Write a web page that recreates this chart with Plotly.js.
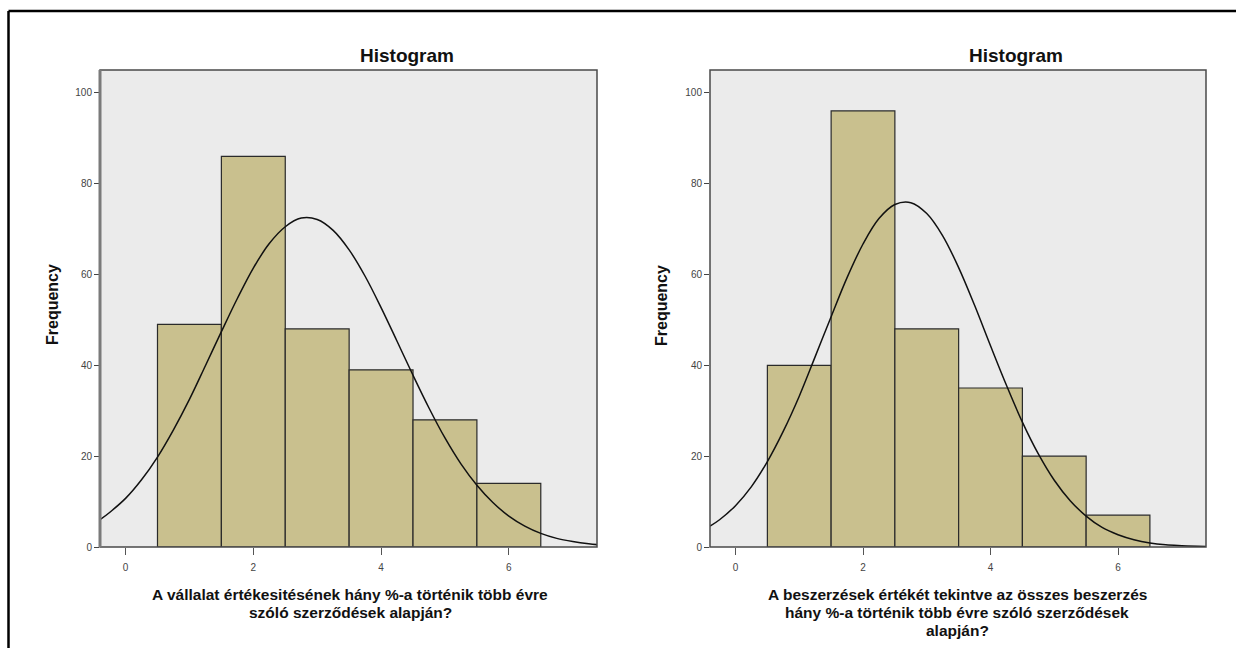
<!DOCTYPE html>
<html>
<head>
<meta charset="utf-8">
<script src="https://cdn.plot.ly/plotly-3.0.1.min.js"></script>
<style>html,body{margin:0;padding:0;background:#fff;}#chart{width:1236px;height:648px;}</style>
</head>
<body>
<div id="chart"></div>
<script>
// Bin centres (bins of width 1: 0.5-1.5, ..., 5.5-6.5)
const binCenters = [1, 2, 3, 4, 5, 6];
// Frequencies
const freqLeft  = [49, 86, 48, 39, 28, 14];
const freqRight = [40, 96, 48, 35, 20, 7];

// Normal curves, points
const curveX = [-0.4, -0.25, 0, 0.25, 0.5, 0.75, 1, 1.25, 1.5, 1.75, 2, 2.25, 2.5, 2.75, 3, 3.25, 3.5,
                3.75, 4, 4.25, 4.5, 4.75, 5, 5.25, 5.5, 5.75, 6, 6.25, 6.5, 6.75, 7, 7.25, 7.4];
const curveLeftY  = [6.0, 7.6, 10.7, 14.8, 19.8, 25.8, 32.5, 39.9, 47.4, 54.7, 61.4, 66.8, 70.5, 72.4, 72.1, 69.7, 65.4,
                     59.6, 52.7, 45.3, 37.8, 30.6, 24.0, 18.3, 13.6, 9.8, 6.8, 4.6, 3.0, 1.9, 1.2, 0.7, 0.5];
const curveRightY = [4.6, 6.0, 9.1, 13.3, 18.8, 25.5, 33.2, 41.9, 50.7, 59.3, 66.7, 72.3, 75.4, 75.8, 73.4, 68.5, 61.5,
                     53.2, 44.3, 35.6, 27.5, 20.5, 14.7, 10.2, 6.8, 4.3, 2.7, 1.6, 0.9, 0.5, 0.3, 0.15, 0.1];

const xTicks = [0, 2, 4, 6];
const yTicks = [0, 20, 40, 60, 80, 100];
const chartTitle = "Histogram";
const yTitle = "Frequency";
const xTitleLeftLines = ["A vállalat értékesitésének hány %-a történik több évre", "szóló szerződések alapján?"];
const xTitleRightLines = ["A beszerzések értékét tekintve az összes beszerzés", "hány %-a történik több évre szóló szerződések", "alapján?"];

const W = 1236, H = 648;
const fx = v => v / W, fy = v => 1 - v / H;
const FONT = "Liberation Sans, Arial, sans-serif";
const barColor = "#C9C08E";
const bgColor = "#EBEBEB";

const traces = [
  {type: "bar", x: binCenters, y: freqLeft, width: 1, xaxis: "x", yaxis: "y",
   marker: {color: barColor, line: {color: "#2a2a2a", width: 1.2}}},
  {type: "scatter", mode: "lines", x: curveX, y: curveLeftY, xaxis: "x", yaxis: "y",
   line: {color: "#111", width: 1.5, shape: "spline", smoothing: 1}},
  {type: "bar", x: binCenters, y: freqRight, width: 1, xaxis: "x2", yaxis: "y2",
   marker: {color: barColor, line: {color: "#2a2a2a", width: 1.2}}},
  {type: "scatter", mode: "lines", x: curveX, y: curveRightY, xaxis: "x2", yaxis: "y2",
   line: {color: "#111", width: 1.5, shape: "spline", smoothing: 1}}
];

const xRange = [-0.4, 7.38];
const yRange = [0, 105];
const tickFont = {family: FONT, size: 10, color: "#444"};

function xAxis(dom, anchor) {
  return {domain: dom, anchor: anchor, range: xRange, tickvals: xTicks, ticks: "outside",
    ticklen: 7, tickcolor: "#555", tickwidth: 1, ticklabelstandoff: 4, showgrid: false, zeroline: false,
    showline: false, tickfont: tickFont, fixedrange: true};
}
function yAxis(anchor) {
  return {domain: [fy(547), fy(70)], anchor: anchor, range: yRange, tickvals: yTicks,
    ticks: "outside", ticklen: 5, tickcolor: "#444", tickwidth: 1, showgrid: false,
    zeroline: false, showline: false, tickfont: tickFont, fixedrange: true};
}

const L = [100, 597], R = [710, 1206];

function ann(text, x, y, size, extra) {
  return Object.assign({text: text, xref: "paper", yref: "paper", x: fx(x), y: fy(y),
    xanchor: "center", yanchor: "middle", showarrow: false,
    font: {family: FONT, size: size, color: "#111"}}, extra || {});
}

const annotations = [
  ann("<b>" + chartTitle + "</b>", 407, 55, 19),
  ann("<b>" + chartTitle + "</b>", 1016, 55, 19),
  ann("<b>" + yTitle + "</b>", 52, 305, 16, {textangle: -90}),
  ann("<b>" + yTitle + "</b>", 661, 305, 16, {textangle: -90})
];
const lineY = [594, 612, 630];
xTitleLeftLines.forEach((t, i) => annotations.push(ann("<b>" + t + "</b>", 350, lineY[i], 15.5)));
xTitleRightLines.forEach((t, i) => annotations.push(ann("<b>" + t + "</b>", 957, lineY[i], 15.5)));

const layout = {
  width: W, height: H,
  margin: {l: 0, r: 0, t: 0, b: 0},
  paper_bgcolor: "#fff",
  plot_bgcolor: bgColor,
  showlegend: false,
  bargap: 0,
  xaxis: xAxis([fx(L[0]), fx(L[1])], "y"),
  yaxis: yAxis("x"),
  xaxis2: xAxis([fx(R[0]), fx(R[1])], "y2"),
  yaxis2: yAxis("x2"),
  shapes: [
    {type: "line", xref: "paper", yref: "paper", x0: fx(8.5), x1: fx(8.5), y0: 0, y1: fy(11), line: {color: "#000", width: 2.5}},
    {type: "line", xref: "paper", yref: "paper", x0: fx(8.5), x1: 1, y0: fy(11), y1: fy(11), line: {color: "#000", width: 2.5}},
    {type: "rect", xref: "x domain", yref: "y domain", x0: 0, x1: 1, y0: 0, y1: 1, line: {color: "#4a4a4a", width: 1.5}, layer: "above"},
    {type: "line", xref: "x domain", yref: "y domain", x0: 0, x1: 0, y0: 0, y1: 1, line: {color: "#7a7a7a", width: 3}, layer: "above"},
    {type: "rect", xref: "x2 domain", yref: "y2 domain", x0: 0, x1: 1, y0: 0, y1: 1, line: {color: "#4a4a4a", width: 1.5}, layer: "above"}
  ],
  annotations: annotations
};

Plotly.newPlot("chart", traces, layout, {displayModeBar: false, staticPlot: true});
</script>
</body>
</html>
